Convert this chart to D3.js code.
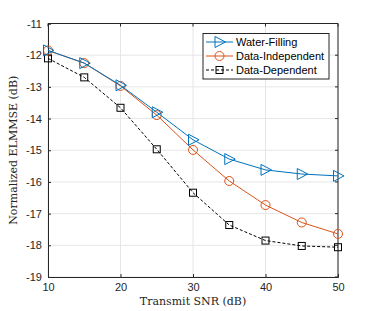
<!DOCTYPE html>
<html>
<head>
<meta charset="utf-8">
<script src="https://cdn.jsdelivr.net/npm/d3@7"></script>
<style>
  body { margin: 0; background: #fff; }
  svg { display: block; }
</style>
</head>
<body>
<div id="chart"></div>
<script>
// chart data
const snr = [10, 15, 20, 25, 30, 35, 40, 45, 50];
const waterFilling = [-11.85, -12.25, -12.95, -13.8, -14.67, -15.28, -15.62, -15.75, -15.81];
const dataIndependent = [-11.85, -12.25, -12.97, -13.89, -14.99, -15.97, -16.73, -17.28, -17.64];
const dataDependent = [-12.1, -12.7, -13.66, -14.97, -16.34, -17.36, -17.85, -18.02, -18.06];
const xTicks = [10, 20, 30, 40, 50];
const yTicks = [-11, -12, -13, -14, -15, -16, -17, -18, -19];
const seriesNames = ["Water-Filling", "Data-Independent", "Data-Dependent"];

const width = 374, height = 311;
const margin = {top: 23.5, right: 36, bottom: 34, left: 48};

let svg = d3.select("#chart")
    .append("svg")
    .attr("width", width)
    .attr("height", height);

let x = d3.scaleLinear().domain([10, 50]).range([margin.left, width - margin.right]);
let y = d3.scaleLinear().domain([-19, -11]).range([height - margin.bottom, margin.top]);

// grid
svg.append("g").selectAll("line").data(xTicks).enter().append("line")
    .attr("x1", d => x(d)).attr("x2", d => x(d))
    .attr("y1", y(-19)).attr("y2", y(-11))
    .attr("stroke", "#e6e6e6").attr("stroke-width", 1);
svg.append("g").selectAll("line").data(yTicks).enter().append("line")
    .attr("x1", x(10)).attr("x2", x(50))
    .attr("y1", d => y(d)).attr("y2", d => y(d))
    .attr("stroke", "#e6e6e6").attr("stroke-width", 1);

// axes (ticks inward)
let axFont = "Liberation Sans, Arial, sans-serif";
let xAxis = svg.append("g")
    .attr("transform", `translate(0, ${y(-19)})`)
    .call(d3.axisBottom(x).tickValues(xTicks).tickSize(-3).tickPadding(6).tickFormat(d3.format("d")));
let yAxis = svg.append("g")
    .attr("transform", `translate(${x(10)}, 0)`)
    .call(d3.axisLeft(y).tickValues(yTicks).tickSize(-3).tickPadding(6).tickFormat(d => d3.format("d")(d).replace("−", "-")));
[xAxis, yAxis].forEach(a => {
    a.selectAll("text").style("font-family", axFont).style("font-size", "11px").attr("fill", "#262626");
    a.selectAll("line").attr("stroke", "#262626");
    a.select(".domain").attr("stroke", "#262626");
});
// top and right box lines
svg.append("line").attr("x1", x(10)).attr("x2", x(50)).attr("y1", y(-11)).attr("y2", y(-11)).attr("stroke", "#262626");
svg.append("line").attr("x1", x(50)).attr("x2", x(50)).attr("y1", y(-11)).attr("y2", y(-19)).attr("stroke", "#262626");
svg.append("g").selectAll("line").data(xTicks).enter().append("line")
    .attr("x1", d => x(d)).attr("x2", d => x(d)).attr("y1", y(-11)).attr("y2", y(-11) + 3).attr("stroke", "#262626");
svg.append("g").selectAll("line").data(yTicks).enter().append("line")
    .attr("x1", x(50)).attr("x2", x(50) - 3).attr("y1", d => y(d)).attr("y2", d => y(d)).attr("stroke", "#262626");

// labels
svg.append("text")
    .attr("x", (x(10) + x(50)) / 2).attr("y", 305)
    .attr("text-anchor", "middle")
    .style("font-family", "DejaVu Serif, serif").style("font-size", "11px").attr("fill", "#262626")
    .text("Transmit SNR (dB)");
svg.append("text")
    .attr("transform", `translate(17, ${(y(-11) + y(-19)) / 2}) rotate(-90)`)
    .attr("text-anchor", "middle")
    .style("font-family", "DejaVu Serif, serif").style("font-size", "11px").attr("fill", "#262626")
    .text("Normalized ELMMSE (dB)");

// series
const series = [
    {name: seriesNames[0], values: waterFilling, color: "#0072BD", dash: null, marker: "tri"},
    {name: seriesNames[1], values: dataIndependent, color: "#D95319", dash: null, marker: "circ"},
    {name: seriesNames[2], values: dataDependent, color: "#000000", dash: "3,2", marker: "sq"}
];

function drawMarker(g, type, cx, cy, color) {
    if (type === "tri") {
        g.append("path")
            .attr("d", `M${cx - 4.5},${cy - 5.5} L${cx + 6},${cy} L${cx - 4.5},${cy + 5.5} Z`)
            .attr("fill", "none").attr("stroke", color).attr("stroke-width", 1);
    } else if (type === "circ") {
        g.append("circle").attr("cx", cx).attr("cy", cy).attr("r", 4.5)
            .attr("fill", "none").attr("stroke", color).attr("stroke-width", 1);
    } else {
        g.append("rect").attr("x", cx - 3.5).attr("y", cy - 3.5).attr("width", 7).attr("height", 7)
            .attr("fill", "none").attr("stroke", color).attr("stroke-width", 1);
    }
}

let line = d3.line().x(d => x(d[0])).y(d => y(d[1]));

// draw in reverse so water-filling sits on top
series.slice().reverse().forEach(s => {
    let pts = snr.map((v, i) => [v, s.values[i]]);
    let g = svg.append("g");
    g.append("path").datum(pts)
        .attr("d", line)
        .attr("fill", "none")
        .attr("stroke", s.color)
        .attr("stroke-width", 1)
        .attr("stroke-dasharray", s.dash);
    pts.forEach(p => drawMarker(g, s.marker, x(p[0]), y(p[1]), s.color));
});

// legend
let lg = svg.append("g");
lg.append("rect").attr("x", 203).attr("y", 33.5).attr("width", 126).attr("height", 45.5)
    .attr("fill", "#fff").attr("stroke", "#262626").attr("stroke-width", 1);
series.forEach((s, i) => {
    let ly = 42 + i * 14;
    lg.append("line").attr("x1", 206).attr("x2", 233).attr("y1", ly).attr("y2", ly)
        .attr("stroke", s.color).attr("stroke-dasharray", s.dash);
    drawMarker(lg, s.marker, 219.5, ly, s.color);
    lg.append("text").attr("x", 236).attr("y", ly + 4)
        .style("font-family", axFont).style("font-size", "11px").attr("fill", "#000")
        .text(s.name);
});
</script>
</body>
</html>
